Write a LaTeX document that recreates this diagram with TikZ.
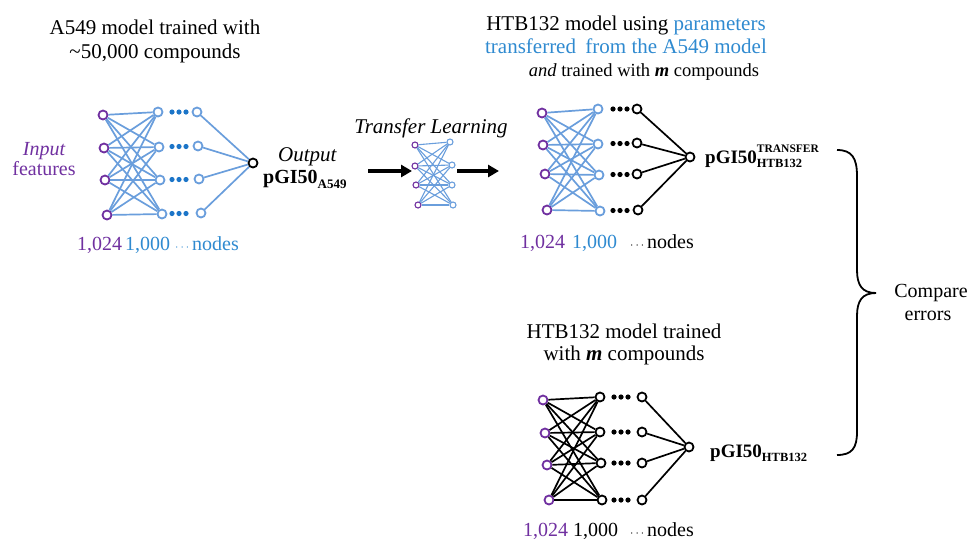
\documentclass[tikz,border=0pt]{standalone}
\usepackage{fontspec}
\setmainfont{Liberation Serif}
\usetikzlibrary{arrows.meta}
\definecolor{pur}{HTML}{7030A0}
\definecolor{lb}{HTML}{6A9EDC}
\definecolor{tb}{HTML}{2F8AD0}
\definecolor{db}{HTML}{1C75C8}
\newcommand\fsz[1]{\fontsize{#1}{#1}\selectfont}
\begin{document}
\begin{tikzpicture}[x=1pt,y=-1pt,
  nd/.style={circle,draw,line width=1.8pt,minimum size=9pt,inner sep=0pt},
  pn/.style={nd,draw=pur},
  bn/.style={nd,draw=lb},
  kn/.style={nd,draw=black},
  sn/.style={circle,draw,line width=1.1pt,minimum size=6pt,inner sep=0pt},
  bl/.style={draw=lb,line width=1.7pt},
  kl/.style={draw=black,line width=1.7pt},
  sl/.style={draw=lb,line width=1.1pt},
  ttl/.style={font=\fsz{21},anchor=base,inner sep=0pt},
  lab/.style={font=\fsz{20},anchor=base west,inner sep=0pt},
  bigarrow/.style={line width=3.2pt,-{Triangle[length=11pt,width=12pt]}}
]
\useasboundingbox (0,0) rectangle (969,539);

% ---------- titles ----------
\node[ttl] (t1a) at (155,34) {A549 model trained with};
\node[ttl] (t1b) at (155,58) {\textasciitilde50,000 compounds};
\node[ttl] (t2a) at (626,30) {HTB132 model using \textcolor{tb}{parameters}};
\node[ttl,text=tb] (t2b) at (626,53) {transferred\hspace{0.2em} from the A549 model};
\node[ttl,font=\fsz{18.5}] (t2c) at (644,76) {\textit{and} trained with \textbf{\textit{m}} compounds};
\node[ttl] (t3a) at (624,338) {HTB132 model trained};
\node[ttl] (t3b) at (624,360) {with \textbf{\textit{m}} compounds};

% ---------- network 1 (A549) ----------
\foreach \n/\x/\y in {1/103/115,2/104/148,3/105/180,4/107/215}
  \node[pn] (ai\n) at (\x,\y) {};
\foreach \n/\x/\y in {1/158/112,2/159/147,3/160/180,4/162/214}
  \node[bn] (ah\n) at (\x,\y) {};
\foreach \n/\x/\y in {1/197/112,2/198/146,3/199/179,4/201/213}
  \node[bn] (al\n) at (\x,\y) {};
\node[kn] (ao) at (253,163) {};
\foreach \y in {112,146.5,179.5,213.5}
  \foreach \x in {172,179,186}
    \fill[db] (\x,\y) circle (2.6);
\foreach \i in {1,...,4}
  \foreach \j in {1,...,4}
    \path[bl] (ai\i) -- (ah\j);
\foreach \j in {1,...,4}
  \path[bl] (al\j) -- (ao);

\node[anchor=base,inner sep=0pt,font=\fsz{20}\itshape,text=pur] (inp) at (44,155) {Input};
\node[anchor=base,inner sep=0pt,font=\fsz{20},text=pur] (feat) at (44,175) {features};
\node[anchor=base west,inner sep=0pt,font=\fsz{21}\itshape] (outp) at (278,161) {Output};
\node[anchor=base west,inner sep=0pt,font=\fsz{20}\bfseries] (alab) at (263,183)
  {pGI50\raisebox{-5pt}{\fsz{13}A549}};

\node[lab,text=pur] (an1) at (77,250) {1,024};
\node[lab,text=tb] (an2) at (125,250) {1,000};
\node[lab,text=tb] (an3) at (175,250) {\fsz{13}$\cdots$};
\node[lab,text=tb] (an4) at (192,250) {nodes};

% ---------- transfer learning ----------
\node[anchor=base,inner sep=0pt,font=\fsz{21}\itshape] (tl) at (431,133) {Transfer Learning};
\foreach \n/\x/\y in {1/415/145,2/415/166,3/416/185,4/418/205}
  \node[sn,draw=pur] (ti\n) at (\x,\y) {};
\foreach \n/\x/\y in {1/450/142,2/452/165,3/452/185,4/453/205}
  \node[sn,draw=lb] (th\n) at (\x,\y) {};
\foreach \i in {1,...,4}
  \foreach \j in {1,...,4}
    \path[sl] (ti\i) -- (th\j);
\coordinate (ar1s) at (368,171);
\coordinate (ar1e) at (412,171);
\coordinate (ar2s) at (457,171);
\coordinate (ar2e) at (499,171);
\draw[bigarrow] (ar1s) -- (ar1e);
\draw[bigarrow] (ar2s) -- (ar2e);

% ---------- network 2 (HTB132 transfer) ----------
\foreach \n/\x/\y in {1/542/113,2/543/145,3/545/174,4/547/210}
  \node[pn] (bi\n) at (\x,\y) {};
\foreach \n/\x/\y in {1/598/109,2/598/144,3/599/175,4/600/211}
  \node[bn] (bh\n) at (\x,\y) {};
\foreach \n/\x/\y in {1/637/109,2/637/143,3/637/174,4/638/210}
  \node[kn] (bl\n) at (\x,\y) {};
\node[kn] (bo) at (690,157) {};
\foreach \y in {109,143.5,174.5,210.5}
  \foreach \x in {613,620,627}
    \fill[black] (\x,\y) circle (2.6);
\foreach \i in {1,...,4}
  \foreach \j in {1,...,4}
    \path[bl] (bi\i) -- (bh\j);
\foreach \j in {1,...,4}
  \path[kl] (bl\j) -- (bo);
\node[anchor=base west,inner sep=0pt,font=\fsz{19}\bfseries] (blab) at (705,163)
  {pGI50\rlap{\raisebox{11pt}{\fsz{11.5}TRANSFER}}\raisebox{-4.5pt}{\fsz{12.5}HTB132}};

\node[lab,text=pur] (bn1) at (520,248) {1,024};
\node[lab,text=tb] (bn2) at (572,248) {1,000};
\node[lab] (bn3) at (630,248) {\fsz{13}$\cdots$};
\node[lab] (bn4) at (647,248) {nodes};

% ---------- network 3 (HTB132 only) ----------
\foreach \n/\x/\y in {1/543/400,2/545/433,3/547/465,4/549/500}
  \node[pn] (ci\n) at (\x,\y) {};
\foreach \n/\x/\y in {1/600/397,2/600/432,3/601/463,4/602/500}
  \node[kn] (ch\n) at (\x,\y) {};
\foreach \n/\x/\y in {1/642/397,2/642/432,3/642/463,4/642/500}
  \node[kn] (cl\n) at (\x,\y) {};
\node[kn] (co) at (689,447) {};
\foreach \y in {397,432,463,500}
  \foreach \x in {614,621,628}
    \fill[black] (\x,\y) circle (2.6);
\foreach \i in {1,...,4}
  \foreach \j in {1,...,4}
    \path[kl] (ci\i) -- (ch\j);
\foreach \j in {1,...,4}
  \path[kl] (cl\j) -- (co);
\node[anchor=base west,inner sep=0pt,font=\fsz{19}\bfseries] (clab) at (710,457)
  {pGI50\raisebox{-4.5pt}{\fsz{12.5}HTB132}};

\node[lab,text=pur] (cn1) at (523,536) {1,024};
\node[lab] (cn2) at (573,536) {1,000};
\node[lab] (cn3) at (630,536) {\fsz{13}$\cdots$};
\node[lab] (cn4) at (647,536) {nodes};

% ---------- brace ----------
\coordinate (brt) at (837,150);
\coordinate (brm) at (876,293);
\coordinate (brb) at (837,455);
\draw[line width=1.8pt] (brt) .. controls (852,150) and (857,158) .. (857,176)
  -- (857,270) .. controls (857,285) and (862,293) .. (brm)
  .. controls (862,293) and (857,301) .. (857,316)
  -- (857,432) .. controls (857,448) and (852,455) .. (brb);
\node[anchor=base,inner sep=0pt,font=\fsz{20}] (cmp) at (931,297) {Compare};
\node[anchor=base,inner sep=0pt,font=\fsz{20}] (err) at (928,320) {errors};
\end{tikzpicture}
\end{document}
